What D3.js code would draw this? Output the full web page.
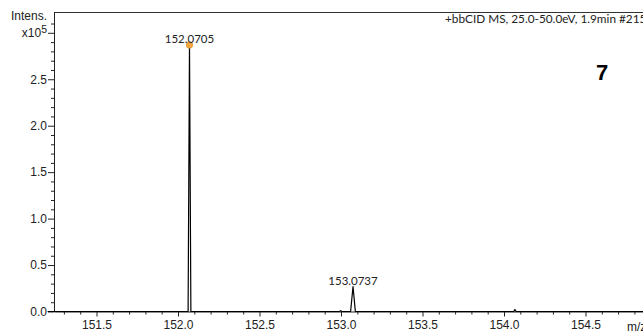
<!DOCTYPE html>
<html>
<head>
<meta charset="utf-8">
<script src="https://cdn.jsdelivr.net/npm/d3@7"></script>
<style>
  html, body { margin: 0; padding: 0; background: #fff; }
  svg { display: block; }
  .tick text { font-family: "Liberation Sans", Arial, sans-serif; font-size: 12px; fill: #222; }
</style>
</head>
<body>
<svg id="chart" width="643" height="334"></svg>
<script>
// Profile spectrum: m/z positions and intensities (counts)
const profileMz = [151.20, 152.062, 152.0705, 152.079, 152.990, 152.998, 153.006,
                   153.059, 153.0737, 153.088, 154.060, 154.067, 154.074, 154.90];
const profileIntensity = [0, 0, 286900, 0, 0, 900, 0,
                          0, 26900, 0, 0, 2200, 0, 0];

// Annotated peaks
const peakMz = [152.0705, 153.0737];
const peakIntensity = [286900, 26900];
const peakLabels = ["152.0705", "153.0737"];
const markedPeak = [0]; // index of the peak carrying the marker

// Axis ticks
const xMajorTicks = [151.5, 152.0, 152.5, 153.0, 153.5, 154.0, 154.5];
const xMinorTicks = [151.3, 151.4, 151.6, 151.7, 151.8, 151.9, 152.1, 152.2, 152.3, 152.4,
                     152.6, 152.7, 152.8, 152.9, 153.1, 153.2, 153.3, 153.4, 153.6, 153.7,
                     153.8, 153.9, 154.1, 154.2, 154.3, 154.4, 154.6, 154.7, 154.8];
const yMajorTicks = [0, 50000, 100000, 150000, 200000, 250000, 300000];
const yMinorTicks = [10000, 20000, 30000, 40000, 60000, 70000, 80000, 90000,
                     110000, 120000, 130000, 140000, 160000, 170000, 180000, 190000,
                     210000, 220000, 230000, 240000, 260000, 270000, 280000, 290000, 310000];

const titleText = "+bbCID MS, 25.0-50.0eV, 1.9min #215";
const compoundNo = "7";

const svg = d3.select("#chart");
const plotLeft = 54, plotTop = 12, plotBottom = 311.5, plotRight = 700;

const x = d3.scaleLinear().domain([152.0, 153.0]).range([178, 341]);
x.domain([x.invert(plotLeft), x.invert(plotRight)]).range([plotLeft, plotRight]);
const y = d3.scaleLinear().domain([0, 322400]).range([plotBottom, plotTop]);

const ink = "#222";

// Frame top edge
svg.append("line")
  .attr("x1", plotLeft).attr("x2", plotRight).attr("y1", plotTop + 0.5).attr("y2", plotTop + 0.5)
  .attr("stroke", "#333").attr("stroke-width", 1);

// X axis
const gx = svg.append("g").attr("transform", `translate(0,${plotBottom})`);
gx.call(d3.axisBottom(x).tickValues(xMinorTicks).tickSize(3).tickFormat(""))
  .call(g => g.select(".domain").remove());
gx.append("g").call(d3.axisBottom(x).tickValues(xMajorTicks).tickSize(5).tickSizeOuter(0)
    .tickFormat(d3.format(".1f")))
  .call(g => g.selectAll(".tick text").attr("dy", "0.95em").attr("y", 6));
gx.selectAll("line, path").attr("stroke", ink);

// Y axis
const gy = svg.append("g").attr("transform", `translate(${plotLeft},0)`);
gy.call(d3.axisLeft(y).tickValues(yMinorTicks).tickSize(3).tickFormat(""))
  .call(g => g.select(".domain").remove());
gy.append("g").call(d3.axisLeft(y).tickValues(yMajorTicks).tickSize(6).tickSizeOuter(0)
    .tickFormat(d => d === 300000 ? "" : (d / 1e5).toFixed(1)))
  .call(g => g.selectAll(".tick text").attr("x", -7));
gy.selectAll("line, path").attr("stroke", ink);
gy.select("g path.domain").attr("d", `M0.5,${plotTop}V${plotBottom}`);

// Exponent label at the top major tick
const expLabel = svg.append("text")
  .attr("x", 47).attr("y", y(300000) + 4)
  .attr("text-anchor", "end")
  .style("font-family", "'Liberation Sans', Arial, sans-serif")
  .style("font-size", "12px").attr("fill", ink);
expLabel.append("tspan").text("x10");
expLabel.append("tspan").attr("dy", -4).style("font-size", "10.5px").text("5");

svg.append("text")
  .attr("x", 11).attr("y", 20)
  .style("font-family", "'Liberation Sans', Arial, sans-serif")
  .style("font-size", "12px").attr("fill", ink)
  .text("Intens.");

// m/z axis label
svg.append("text")
  .attr("x", 627).attr("y", plotBottom + 19.5)
  .style("font-family", "'Liberation Sans', Arial, sans-serif")
  .style("font-size", "12px").attr("fill", ink)
  .text("m/z");

// Spectrum trace
const line = d3.line().x((d, i) => x(profileMz[i])).y((d, i) => y(profileIntensity[i]));
svg.append("path")
  .datum(profileMz)
  .attr("d", line)
  .attr("fill", "none")
  .attr("stroke", "#000")
  .attr("stroke-width", 1.2)
  .attr("stroke-linejoin", "round");

// Peak marker
svg.selectAll("circle.marker")
  .data(markedPeak)
  .join("circle")
  .attr("class", "marker")
  .attr("cx", i => x(peakMz[i]))
  .attr("cy", i => y(peakIntensity[i]))
  .attr("r", 3.3)
  .attr("fill", "#f4a640")
  .attr("stroke", "#d98a20")
  .attr("stroke-width", 0.6);

// Peak labels
svg.selectAll("text.peak")
  .data(peakLabels)
  .join("text")
  .attr("class", "peak")
  .attr("x", (d, i) => x(peakMz[i]))
  .attr("y", (d, i) => y(peakIntensity[i]) - 2)
  .attr("text-anchor", "middle")
  .style("font-family", "Lato, 'Open Sans', sans-serif")
  .style("font-size", "11.5px")
  .attr("fill", ink)
  .text(d => d);

// Scan title
svg.append("text")
  .attr("x", 445).attr("y", 23)
  .style("font-family", "Lato, 'Open Sans', sans-serif")
  .style("font-size", "11.8px")
  .attr("fill", ink)
  .text(titleText);

// Compound number
svg.append("text")
  .attr("x", 596).attr("y", 80)
  .style("font-family", "'Liberation Sans', Arial, sans-serif")
  .style("font-size", "22px")
  .style("font-weight", "bold")
  .attr("fill", "#000")
  .text(compoundNo);
</script>
</body>
</html>
